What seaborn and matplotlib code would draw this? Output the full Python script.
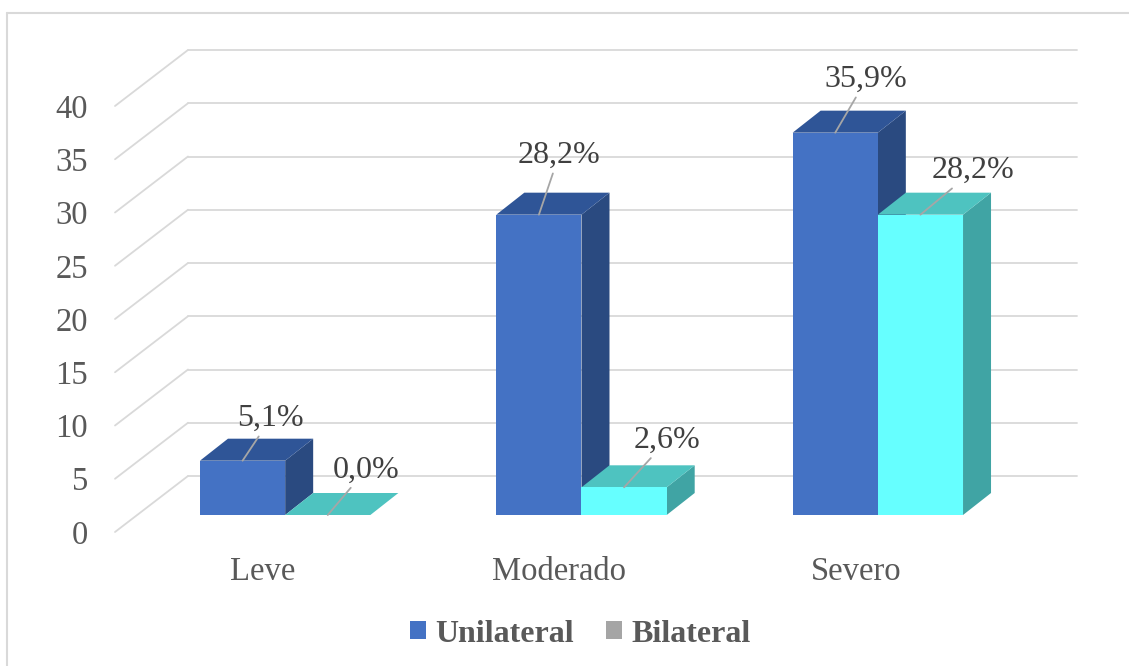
import matplotlib
matplotlib.use("Agg")
import matplotlib.pyplot as plt
from matplotlib.patches import Polygon, Patch
from matplotlib.lines import Line2D
import seaborn as sns
import pandas as pd

# Datos
categorias = ["Leve", "Moderado", "Severo"]
series = ["Unilateral", "Bilateral"]
unilateral = [5.1, 28.2, 35.9]
bilateral = [0.0, 2.6, 28.2]
yticks = [0, 5, 10, 15, 20, 25, 30, 35, 40]

df = pd.DataFrame({
    "Grado": categorias * 2,
    "Valor": unilateral + bilateral,
    "Lado": [series[0]] * 3 + [series[1]] * 3,
})

# Colores: frente, tapa, lateral, leyenda
col_front = {"Unilateral": "#4472C4", "Bilateral": "#66FFFF"}
col_top = {"Unilateral": "#2F5597", "Bilateral": "#4EC3C0"}
col_side = {"Unilateral": "#2A4A80", "Bilateral": "#40A4A4"}
col_legend = {"Unilateral": "#4472C4", "Bilateral": "#A5A5A5"}
grid_col = "#D9D9D9"

sns.set_theme(style="white")
plt.rcParams["font.family"] = ["Liberation Serif", "DejaVu Serif"]

W, H = 1129, 666
fig = plt.figure(figsize=(W / 100, H / 100), dpi=100)
ax = fig.add_axes([115 / W, (H - 532) / H, 889 / W, 426 / H])
ax.set_xlim(-0.5, 2.5)
ax.set_ylim(0, 40)

# pixeles -> unidades de datos
sx = 889 / 3.0
sy = 426 / 40.0
def off(px, py):
    return px / sx, py / sy

wx, wy = off(73, 56)   # pared del fondo
bx, by = off(22, 17)   # plano frontal de las barras
dx, dy = off(28, 22)   # profundidad de las barras

# Cuadricula en 3D (pared lateral + fondo)
for t in yticks:
    ax.plot([-0.5, -0.5 + wx], [t, t + wy], color=grid_col, lw=1.3,
            clip_on=False, zorder=1)
    ax.plot([-0.5 + wx, 2.5 + wx], [t + wy, t + wy], color=grid_col, lw=1.3,
            clip_on=False, zorder=1)

sns.barplot(data=df, x="Grado", y="Valor", hue="Lado", order=categorias,
            hue_order=series, palette=col_front, width=0.575, ax=ax,
            legend=False, saturation=1, linewidth=0)

offsets = {
    "Unilateral": [(28, 42), (20, 59), (31, 53)],
    "Bilateral": [(38, 45), (43, 47), (53, 44)],
}

for k, (name, cont) in enumerate(zip(series, ax.containers)):
    z = 3 + k
    for i, bar in enumerate(cont.patches):
        x0 = bar.get_x() + bx
        w = bar.get_width()
        h = bar.get_height()
        x1 = x0 + w
        y0 = by
        y1 = by + h
        bar.set_x(x0)
        bar.set_y(y0)
        bar.set_zorder(z + 0.2)
        bar.set_clip_on(False)
        side = Polygon([(x1, y0), (x1 + dx, y0 + dy), (x1 + dx, y1 + dy), (x1, y1)],
                       closed=True, facecolor=col_side[name], edgecolor="none",
                       zorder=z, clip_on=False)
        top = Polygon([(x0, y1), (x1, y1), (x1 + dx, y1 + dy), (x0 + dx, y1 + dy)],
                      closed=True, facecolor=col_top[name], edgecolor="none",
                      zorder=z + 0.1, clip_on=False)
        ax.add_patch(side)
        ax.add_patch(top)
        txt = f"{h:.1f}%".replace(".", ",")
        ax.annotate(txt, xy=(x0 + w / 2, y1), xytext=offsets[name][i],
                    textcoords="offset pixels", ha="center", va="center",
                    fontsize=23, color="#404040", zorder=10,
                    arrowprops=dict(arrowstyle="-", color="#A6A6A6", lw=1.3,
                                    shrinkA=0, shrinkB=0),
                    annotation_clip=False)

ax.set_yticks(yticks)
ax.set_xlabel("")
ax.set_ylabel("")
ax.tick_params(axis="y", length=0, pad=19.5, labelsize=23.5, labelcolor="#595959")
ax.tick_params(axis="x", length=0, pad=18, labelsize=23.5, labelcolor="#595959")
for s in ax.spines.values():
    s.set_visible(False)
ax.set_facecolor("none")

handles = [Patch(facecolor=col_legend[s], edgecolor="none", label=s) for s in series]
fig.legend(handles=handles, loc="center", bbox_to_anchor=(580 / W, 1 - 634 / H),
           ncol=2, frameon=False, handlelength=0.5, handleheight=0.5,
           handletextpad=0.3, columnspacing=1.0,
           prop={"size": 23, "weight": "bold"}, labelcolor="#595959")

# Marco del grafico
fig.add_artist(Line2D([7 / W, 7 / W], [0, 1 - 13 / H], color=grid_col, lw=1.5))
fig.add_artist(Line2D([7 / W, 1], [1 - 13 / H, 1 - 13 / H], color=grid_col, lw=1.5))

fig.savefig("out.png", dpi=100)
